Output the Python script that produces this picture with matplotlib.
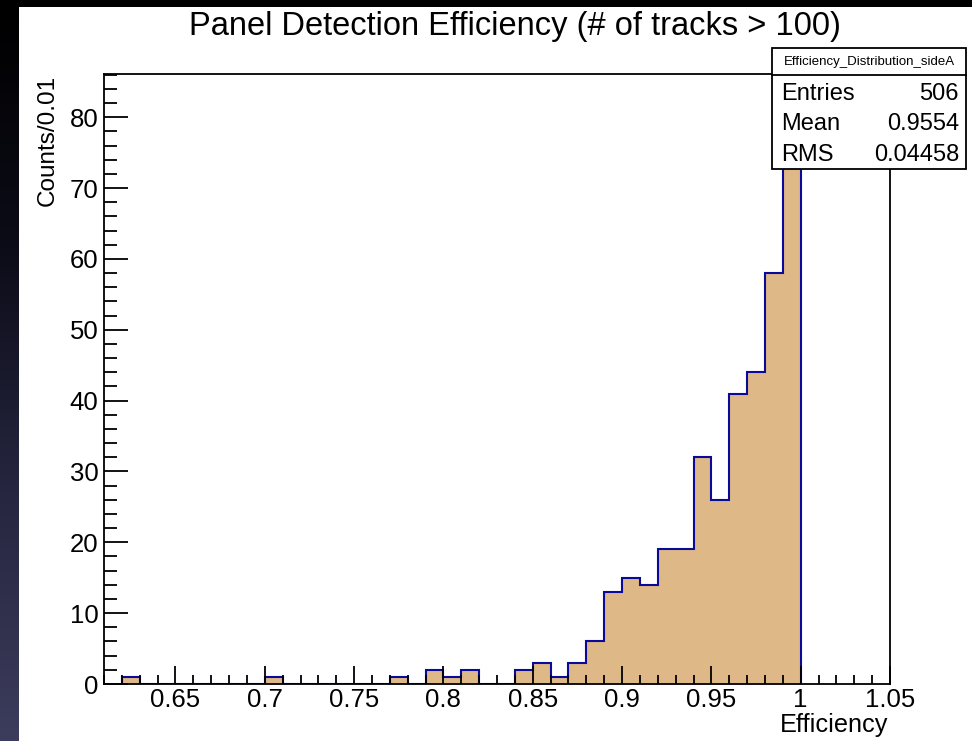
import numpy as np
import matplotlib
matplotlib.use("Agg")
import matplotlib.pyplot as plt
from matplotlib.patches import Rectangle
from matplotlib.ticker import MultipleLocator, FormatStrFormatter
from matplotlib.colors import LinearSegmentedColormap

# ---- data ----
title = "Panel Detection Efficiency (# of tracks > 100)"
x_label = "Efficiency"
y_label = "Counts/0.01"
hist_name = "Efficiency_Distribution_sideA"
stats_labels = ["Entries", "Mean", "RMS"]
stats_values = ["506", "0.9554", "0.04458"]

first_bin = 0.62
bin_width = 0.01
counts = [1, 0, 0, 0, 0, 0, 0, 0,          # 0.62 - 0.69
          1, 0, 0, 0, 0, 0, 0,             # 0.70 - 0.76
          1, 0, 2, 1, 2, 0, 0,             # 0.77 - 0.83
          2, 3, 1, 3, 6, 13, 15, 14,       # 0.84 - 0.91
          19, 19, 32, 26, 41, 44, 58, 82]  # 0.92 - 0.99
x_range = (0.61, 1.05)
y_max = 86.1

# ---- figure ----
W, H = 972, 741
fig = plt.figure(figsize=(W / 100, H / 100), dpi=100, facecolor="white")
plt.rcParams["font.family"] = ["Liberation Sans", "DejaVu Sans"]

# background (screenshot frame: black top band, dark gradient strip on left)
bg = fig.add_axes([0, 0, 1, 1], zorder=-5)
bg.set_xlim(0, W)
bg.set_ylim(H, 0)
bg.axis("off")
bg.add_patch(Rectangle((0, 0), W, 7, color="black", lw=0))
grad = np.linspace(0, 1, 256).reshape(-1, 1)
cm = LinearSegmentedColormap.from_list("g", ["#000000", "#0c0c18", "#262640", "#3c3c5c"])
bg.imshow(grad, cmap=cm, extent=(0, 18, H, 0), aspect="auto", zorder=1)

# main axes
L, R, T, B = 104, 890, 74, 684
ax = fig.add_axes([L / W, 1 - B / H, (R - L) / W, (B - T) / H], zorder=1)
ax.set_facecolor("white")
edges = first_bin + bin_width * np.arange(len(counts) + 1)
ax.stairs(counts, edges, fill=True, color="#deb887", lw=0)
ax.stairs(counts, edges, fill=False, color="#0a0a9a", lw=1.5)
ax.set_xlim(*x_range)
ax.set_ylim(0, y_max)

for s in ["left", "bottom", "right", "top"]:
    ax.spines[s].set_color("black")
    ax.spines[s].set_linewidth(1.3)

ax.xaxis.set_major_locator(MultipleLocator(0.05))
ax.xaxis.set_minor_locator(MultipleLocator(0.01))
ax.xaxis.set_major_formatter(FormatStrFormatter("%g"))
ax.yaxis.set_major_locator(MultipleLocator(10))
ax.yaxis.set_minor_locator(MultipleLocator(2))
ax.tick_params(axis="x", which="major", direction="in", length=13, width=1.3,
               labelsize=18.5, pad=3, colors="black")
ax.tick_params(axis="x", which="minor", direction="in", length=6.5, width=1.3)
ax.tick_params(axis="y", which="major", direction="in", length=17, width=1.3,
               labelsize=18.5, pad=4, colors="black")
ax.tick_params(axis="y", which="minor", direction="in", length=9, width=1.3)
ax.set_axisbelow(False)

# overlay for text / stats box
ov = fig.add_axes([0, 0, 1, 1], zorder=5)
ov.set_xlim(0, W)
ov.set_ylim(H, 0)
ov.axis("off")
ov.patch.set_alpha(0)

ov.text(515, 35, title, ha="center", va="baseline", fontsize=23.5, color="black")
ov.text(888, 725, x_label, ha="right", va="center", fontsize=18.2, color="black")
ov.text(48, 75, y_label, ha="center", va="top", rotation=90, fontsize=17.5, color="black")

bx0, by0, bx1, by1 = 772, 48, 966, 169
div = 75
ov.add_patch(Rectangle((bx0, by0), bx1 - bx0, by1 - by0, facecolor="white",
                       edgecolor="black", lw=1.3))
ov.plot([bx0, bx1], [div, div], color="black", lw=1.3)
ov.text((bx0 + bx1) / 2, (by0 + div) / 2 + 1, hist_name, ha="center", va="center",
        fontsize=9.5, color="black")
row_y = [94, 124, 155]
for lab, val, yy in zip(stats_labels, stats_values, row_y):
    ov.text(781, yy, lab, ha="left", va="center", fontsize=17, color="black")
    ov.text(959, yy, val, ha="right", va="center", fontsize=17, color="black")

fig.savefig("out.png", dpi=100, facecolor=fig.get_facecolor())
